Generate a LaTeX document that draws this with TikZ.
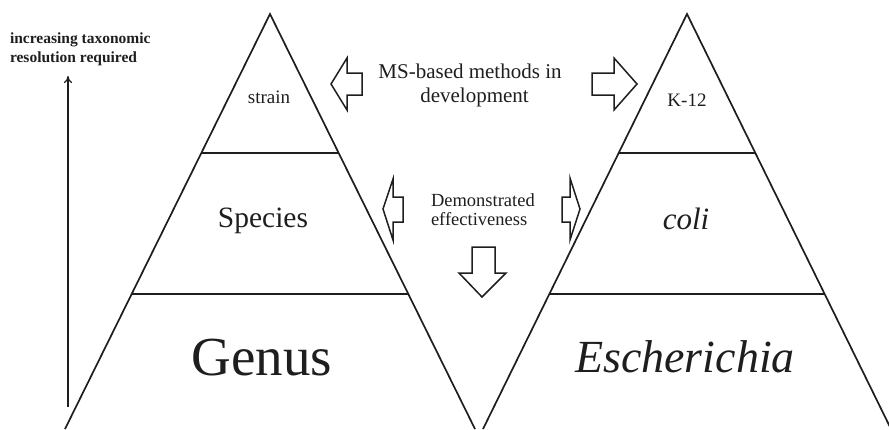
\documentclass[tikz,border=0pt]{standalone}
\usepackage{fontspec}
\setmainfont{Liberation Serif}
\usetikzlibrary{arrows.meta}
\definecolor{ink}{HTML}{1E1E1E}
\tikzset{
  x=1bp, y=-1bp,
  tri/.style={draw=ink, line width=1.7bp, line join=miter},
  divider/.style={draw=ink, line width=1.7bp},
  blockarrow/.style={draw=ink, line width=1.5bp, fill=white, line join=miter},
  lbl/.style={inner sep=0pt, outer sep=0pt, text=ink, anchor=base},
}
\begin{document}
\begin{tikzpicture}
\useasboundingbox (0,0) rectangle (889,429);
% triangles
\draw[tri] (65,429) -- (270,14) -- (475,429);
\draw[tri] (483,429) -- (687,14) -- (891,429);
\draw[divider] (201,153) -- (339,153);
\draw[divider] (132,294) -- (408,294);
\draw[divider] (618,153) -- (756,153);
\draw[divider] (549,294) -- (825,294);
% block arrows
\draw[blockarrow] (331,84) -- (347,58) -- (347,73) -- (362,73) -- (362,95) -- (347,95) -- (347,110) -- cycle;
\draw[blockarrow] (637,84) -- (614,58) -- (614,73) -- (592,73) -- (592,95) -- (614,95) -- (614,110) -- cycle;
\draw[blockarrow] (383,209) -- (393,179) -- (393,197) -- (403,197) -- (403,222) -- (393,222) -- (393,240) -- cycle;
\draw[blockarrow] (580,209) -- (570,178) -- (570,197) -- (562,197) -- (562,222) -- (570,222) -- (570,240) -- cycle;
\draw[blockarrow] (482,297) -- (459,273) -- (472,273) -- (472,247) -- (495,247) -- (495,273) -- (506,273) -- cycle;
% labels
\node[lbl, font=\fontsize{19bp}{22bp}\selectfont] (strain) at (269,103) {strain};
\node[lbl, font=\fontsize{19bp}{22bp}\selectfont] (k12) at (687,106) {K-12};
\node[lbl, font=\fontsize{29.5bp}{34bp}\selectfont] (species) at (263,227) {Species};
\node[lbl, font=\fontsize{31bp}{34bp}\selectfont\itshape] (coli) at (686,229) {coli};
\node[lbl, font=\fontsize{55bp}{60bp}\selectfont] (genus) at (262,375) {Genus};
\node[lbl, font=\fontsize{46bp}{50bp}\selectfont\itshape] (esch) at (685,372) {Escherichia};
\node[lbl, anchor=base west, align=left, font=\fontsize{15.5bp}{19bp}\selectfont\bfseries] (incr) at (10,62) {increasing taxonomic\\resolution required};
\node[lbl, align=center, font=\fontsize{21bp}{24bp}\selectfont] (ms) at (470,102) {MS-based methods in\\\hspace*{9bp}development};
\node[lbl, anchor=base west, align=left, font=\fontsize{18.5bp}{19bp}\selectfont] (demo) at (431,225) {Demonstrated\\effectiveness};
% vertical arrow
\coordinate (vlow) at (68,407);
\coordinate (vhigh) at (68,76);
\draw[ink, line width=1.2bp, -{To[length=7bp,width=8bp]}] (vlow) -- (vhigh);
\end{tikzpicture}
\end{document}
